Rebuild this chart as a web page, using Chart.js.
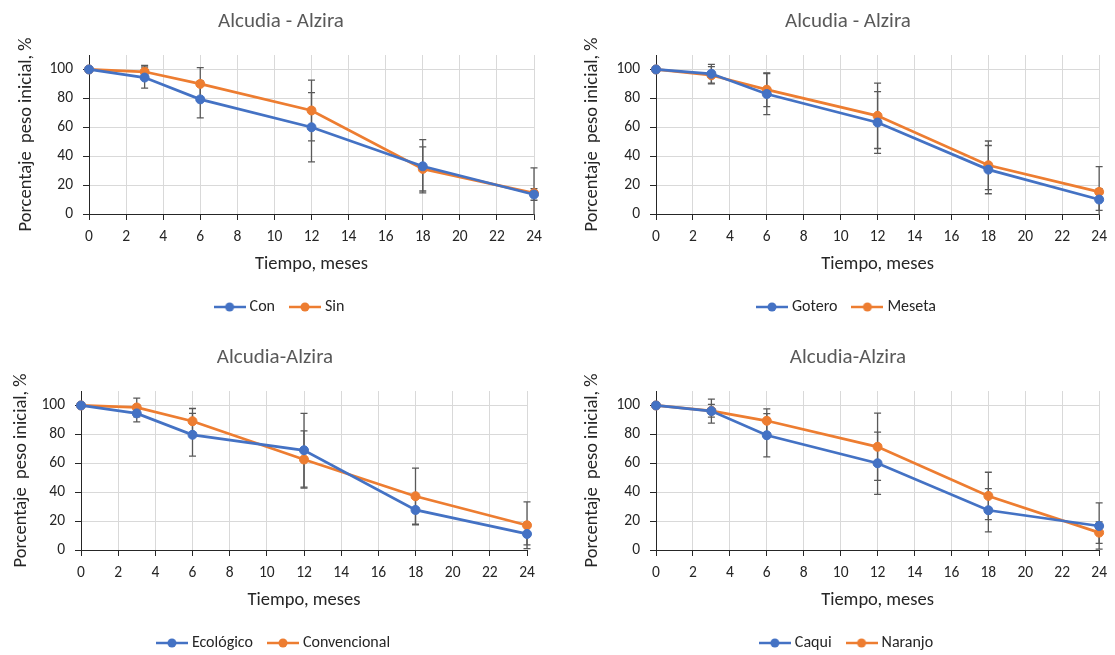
<!DOCTYPE html>
<html><head><meta charset="utf-8">
<script src="https://cdn.jsdelivr.net/npm/chart.js@4.4.1/dist/chart.umd.min.js"></script>
<style>
html,body{margin:0;padding:0;background:#fff;width:1115px;height:655px;overflow:hidden;position:relative}
canvas{position:absolute}
</style></head><body>
<canvas id="c1" width="562" height="330" style="left:0;top:0"></canvas>
<canvas id="c2" width="534" height="330" style="left:581px;top:0"></canvas>
<canvas id="c3" width="550" height="330" style="left:0;top:336px"></canvas>
<canvas id="c4" width="534" height="330" style="left:581px;top:336px"></canvas>
<script>
// ---- data ----
const months = [0, 3, 6, 12, 18, 24];
const yTickValues = [0, 20, 40, 60, 80, 100];

const titles = ["Alcudia - Alzira", "Alcudia - Alzira", "Alcudia-Alzira", "Alcudia-Alzira"];
const xTitle = "Tiempo, meses";
const yTitle = "Porcentaje  peso inicial, %";

const conValues = [100, 94.4, 79.3, 60, 33, 13.5];
const conErrors = [0, 7.3, 12.8, 24, 18.4, 4];
const sinValues = [100, 98.4, 90, 71.6, 31.2, 14.4];
const sinErrors = [0, 4.4, 11.2, 21, 15.3, 17.5];

const goteroValues = [100, 97, 83, 63.3, 30.7, 10];
const goteroErrors = [0, 6.5, 14.2, 21.4, 16.7, 7.5];
const mesetaValues = [100, 96, 86, 67.9, 33.7, 15.3];
const mesetaErrors = [0, 6, 11.7, 22.6, 16.8, 17.5];

const ecoValues = [100, 94.5, 79.7, 69, 27.7, 11.1];
const ecoErrors = [0, 5.8, 14.8, 25.5, 10.3, 7.6];
const convValues = [100, 98.6, 89.1, 62.6, 37.2, 17.1];
const convErrors = [0, 6.5, 8.8, 19.8, 19.4, 16.2];

const caquiValues = [100, 96.1, 79.4, 60, 27.5, 16.6];
const caquiErrors = [0, 8.3, 15, 21.5, 15, 16];
const naranjoValues = [100, 96.3, 89.4, 71.4, 37.4, 12];
const naranjoErrors = [0, 4.4, 8.3, 23.3, 16.4, 7.4];

// ---- styles ----
const BLUE = '#4472C4', ORANGE = '#ED7D31';
const TEXT = '#262626', TITLE = '#595959', GRID = '#D9D9D9', AXIS = '#262626', ERR = '#595959';
Chart.defaults.font.family = "Carlito, Calibri, Lato, sans-serif";

function legendIcon(color) {
  const c = document.createElement('canvas');
  c.width = 32; c.height = 12;
  const g = c.getContext('2d');
  g.strokeStyle = color; g.lineWidth = 2.5;
  g.beginPath(); g.moveTo(0, 6); g.lineTo(32, 6); g.stroke();
  g.fillStyle = color;
  g.beginPath(); g.arc(16, 6, 4.5, 0, Math.PI * 2); g.fill();
  return c;
}
const icons = { [BLUE]: legendIcon(BLUE), [ORANGE]: legendIcon(ORANGE) };

const errorBars = {
  id: 'errorBars',
  beforeDatasetsDraw(chart) {
    const { ctx, chartArea: a, scales: { x, y } } = chart;
    ctx.save();
    ctx.beginPath(); ctx.rect(a.left - 10, a.top, a.width + 20, a.height + 1); ctx.clip();
    ctx.strokeStyle = ERR; ctx.lineWidth = 1.3;
    chart.data.datasets.forEach(ds => {
      ds.data.forEach((p, i) => {
        const e = ds.errors[i];
        if (!e) return;
        const px = x.getPixelForValue(p.x);
        const y1 = y.getPixelForValue(p.y + e), y2 = y.getPixelForValue(p.y - e);
        ctx.beginPath();
        ctx.moveTo(px, y1); ctx.lineTo(px, y2);
        ctx.moveTo(px - 3.5, y1); ctx.lineTo(px + 3.5, y1);
        ctx.moveTo(px - 3.5, y2); ctx.lineTo(px + 3.5, y2);
        ctx.stroke();
      });
    });
    ctx.restore();
  }
};

function series(label, values, errors, color) {
  return {
    label, errors,
    data: months.map((m, i) => ({ x: m, y: values[i] })),
    borderColor: color, backgroundColor: color,
    pointBackgroundColor: color, pointBorderColor: color,
    borderWidth: 2.75, pointRadius: 4.5, pointBorderWidth: 1,
    tension: 0, clip: false
  };
}

function makeChart(id, title, datasets, L) {
  new Chart(document.getElementById(id), {
    type: 'line',
    data: { datasets },
    plugins: [errorBars],
    options: {
      responsive: false, animation: false,
      layout: { padding: { left: 0, right: 0, top: 0, bottom: 5 } },
      plugins: {
        tooltip: { enabled: false },
        title: { display: true, text: title, color: TITLE, font: { size: 21, weight: 'normal' },
                 padding: { top: 9.4, bottom: 20.4 } },
        legend: {
          position: 'bottom',
          labels: {
            usePointStyle: true, pointStyleWidth: 24, padding: 18, color: TEXT,
            font: { size: 16 },
            generateLabels(chart) {
              return chart.data.datasets.map((ds, i) => ({
                text: ds.label, pointStyle: icons[ds.borderColor], fillStyle: ds.borderColor,
                strokeStyle: ds.borderColor, lineWidth: 0, hidden: false, datasetIndex: i, fontColor: TEXT
              }));
            }
          }
        }
      },
      scales: {
        x: {
          type: 'linear', min: 0, max: 24,
          ticks: { stepSize: 2, autoSkip: false, maxRotation: 0, color: TEXT, font: { size: 15.5 }, padding: 8 },
          grid: { color: GRID, lineWidth: 1, tickLength: 6, tickColor: AXIS },
          border: { color: AXIS, width: 1 },
          title: { display: true, text: xTitle, color: TEXT, font: { size: 18.5 }, padding: { top: 0, bottom: 6 } },
          afterFit(s) { s.height = 67; }
        },
        y: {
          min: 0, max: 110,
          ticks: { color: TEXT, font: { size: 15.5 }, padding: 10 },
          afterBuildTicks(s) { s.ticks = yTickValues.map(v => ({ value: v })); },
          grid: { color: GRID, lineWidth: 1, tickLength: 6, tickColor: AXIS },
          border: { color: AXIS, width: 1 },
          title: { display: true, text: yTitle, color: TEXT, font: { size: 18.5 }, padding: { top: L.ytp, bottom: 0 } },
          afterFit(s) { s.width = L.left; }
        },
        pad: {
          type: 'linear', position: 'right', display: true,
          grid: { display: false }, border: { display: false }, ticks: { display: false },
          afterFit(s) { s.width = L.right; }
        }
      }
    }
  });
}

makeChart('c1', titles[0], [series('Con', conValues, conErrors, BLUE), series('Sin', sinValues, sinErrors, ORANGE)],
  { left: 89, right: 28, ytp: 15 });
makeChart('c2', titles[1], [series('Gotero', goteroValues, goteroErrors, BLUE), series('Meseta', mesetaValues, mesetaErrors, ORANGE)],
  { left: 75, right: 15, ytp: 0.5 });
makeChart('c3', titles[2], [series('Ecológico', ecoValues, ecoErrors, BLUE), series('Convencional', convValues, convErrors, ORANGE)],
  { left: 81, right: 23, ytp: 10 });
makeChart('c4', titles[3], [series('Caqui', caquiValues, caquiErrors, BLUE), series('Naranjo', naranjoValues, naranjoErrors, ORANGE)],
  { left: 75, right: 15, ytp: 0.5 });
</script>
</body></html>
